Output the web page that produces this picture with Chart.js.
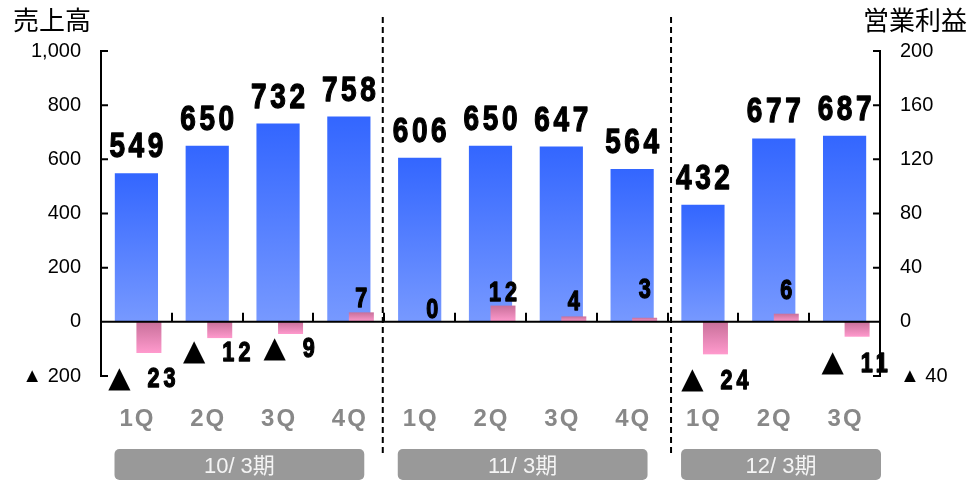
<!DOCTYPE html>
<html lang="ja">
<head>
<meta charset="utf-8">
<title>売上高・営業利益</title>
<script src="https://cdn.jsdelivr.net/npm/chart.js@4.4.1/dist/chart.umd.min.js"></script>
<style>
  html, body { margin: 0; padding: 0; background: #fff; }
  #wrap { width: 971px; height: 481px; position: relative; }
</style>
</head>
<body>
<div id="wrap"><canvas id="chart"></canvas></div>
<script>
const quarters = ['1Q', '2Q', '3Q', '4Q', '1Q', '2Q', '3Q', '4Q', '1Q', '2Q', '3Q'];
const periods = ['10/ 3期', '11/ 3期', '12/ 3期'];
const periodSizes = [4, 4, 3];
const sales = [549, 650, 732, 758, 606, 650, 647, 564, 432, 677, 687];
const profit = [-23, -12, -9, 7, 0, 12, 4, 3, -24, 6, -11];
const salesTicks = [-200, 0, 200, 400, 600, 800, 1000];
const profitTicks = [-40, 0, 40, 80, 120, 160, 200];

// labels in the original were nudged by hand, keep that
const profitLabelDx = [-7, -3, -1.5, 0, 0, 0, 0, 0, -0.5, 0, -2.5];
const profitLabelDy = [26, 14.5, 15, 5, 4, 5, 6, 20, 26.5, 15, 26.5];

const LATIN = '"Liberation Sans", Arial, sans-serif';
const CJK = '"Liberation Sans", "Noto Sans CJK JP", sans-serif';
const SQUEEZE = 0.8;

const tickLabel = v => v < 0 ? '▲ ' + (-v) : v.toLocaleString('en-US');

function vGradient(ctx, top, bottom, c1, c2) {
  const g = ctx.createLinearGradient(0, top, 0, bottom);
  g.addColorStop(0, c1);
  g.addColorStop(1, c2);
  return g;
}

function spaced(ctx, px) {
  if ('letterSpacing' in ctx) ctx.letterSpacing = px + 'px';
}

// tall condensed heavy digits like the original labels
function condensedWidth(ctx, text, font, gap) {
  ctx.save();
  ctx.font = font;
  spaced(ctx, gap);
  const w = (ctx.measureText(text).width - gap) * SQUEEZE;
  ctx.restore();
  return w;
}

function drawCondensed(ctx, text, font, gap, x, y, align) {
  const w = condensedWidth(ctx, text, font, gap);
  const left = align === 'center' ? x - w / 2 : x;
  ctx.save();
  ctx.translate(left, y);
  ctx.scale(SQUEEZE, 1);
  ctx.font = font;
  spaced(ctx, gap);
  ctx.textAlign = 'left';
  ctx.lineWidth = 1.3;
  ctx.lineJoin = 'round';
  ctx.strokeStyle = ctx.fillStyle;
  ctx.fillText(text, 0, 0);
  ctx.strokeText(text, 0, 0);
  ctx.restore();
}

const salesColor = (c) => {
  const chart = c.chart;
  if (!chart.chartArea || c.type !== 'data') return '#3366ff';
  const y = chart.scales.y;
  return vGradient(chart.ctx, y.getPixelForValue(sales[c.dataIndex]), y.getPixelForValue(0), '#3366ff', '#7799ff');
};

const profitColor = (c) => {
  const chart = c.chart;
  if (!chart.chartArea || c.type !== 'data') return '#ff99cc';
  const y = chart.scales.y1;
  const a = y.getPixelForValue(profit[c.dataIndex]);
  const b = y.getPixelForValue(0);
  return vGradient(chart.ctx, Math.min(a, b), Math.max(a, b) + 0.01, '#c8709a', '#ff9acd');
};

const decor = {
  id: 'decor',
  afterDatasetsDraw(chart) {
    const { ctx, chartArea: area } = chart;
    const x = chart.scales.x, y = chart.scales.y, y1 = chart.scales.y1;
    const half = (x.getPixelForValue(1) - x.getPixelForValue(0)) / 2;
    const leftEdge = i => x.getPixelForValue(i) - half;
    const zero = y.getPixelForValue(0);

    ctx.save();
    ctx.strokeStyle = '#000';
    ctx.lineWidth = 2;

    // zero line with upward ticks between categories
    ctx.beginPath();
    ctx.moveTo(area.left, zero);
    ctx.lineTo(area.right, zero);
    for (let i = 1; i < quarters.length; i++) {
      const bx = Math.round(leftEdge(i));
      ctx.moveTo(bx, zero);
      ctx.lineTo(bx, zero - 9);
    }
    // inward ticks on both value axes
    salesTicks.forEach(v => {
      const py = y.getPixelForValue(v);
      ctx.moveTo(area.left, py);
      ctx.lineTo(area.left + 7, py);
    });
    profitTicks.forEach(v => {
      const py = y1.getPixelForValue(v);
      ctx.moveTo(area.right, py);
      ctx.lineTo(area.right - 7, py);
    });
    ctx.stroke();

    // dashed period separators
    ctx.setLineDash([6, 4]);
    const sepNudge = [-1.5, 3.5];
    let idx = 0;
    for (let k = 0; k < periods.length - 1; k++) {
      idx += periodSizes[k];
      const sx = leftEdge(idx) + sepNudge[k];
      ctx.beginPath();
      ctx.moveTo(sx, 17);
      ctx.lineTo(sx, 453);
      ctx.stroke();
    }
    ctx.setLineDash([]);

    // axis titles
    ctx.fillStyle = '#000';
    ctx.font = '26px "Noto Sans CJK JP", sans-serif';
    ctx.textBaseline = 'middle';
    ctx.textAlign = 'left';
    ctx.fillText('売上高', 13, 20);
    ctx.textAlign = 'right';
    ctx.fillText('営業利益', 967, 20);

    // quarter labels
    ctx.fillStyle = '#888';
    ctx.font = 'bold 24px ' + LATIN;
    ctx.textAlign = 'center';
    spaced(ctx, 2);
    quarters.forEach((q, i) => ctx.fillText(q, x.getPixelForValue(i) + 1, 419));
    spaced(ctx, 0);

    // period boxes
    let start = 0;
    periods.forEach((p, k) => {
      const end = start + periodSizes[k];
      const left = leftEdge(start) + 13.5;
      const right = k === periods.length - 1 ? area.right + 1 : leftEdge(end) - 20;
      ctx.fillStyle = '#999';
      ctx.beginPath();
      ctx.roundRect(left, 449, right - left, 31, 5);
      ctx.fill();
      ctx.fillStyle = '#f4f4f4';
      ctx.font = '22px ' + CJK;
      ctx.fillText(p, (left + right) / 2, 467);
      start = end;
    });

    // sales values
    ctx.fillStyle = '#000';
    ctx.textBaseline = 'alphabetic';
    const bigFont = 'bold 35px ' + LATIN;
    chart.getDatasetMeta(0).data.forEach((el, i) => {
      drawCondensed(ctx, String(sales[i]), bigFont, 4.5, el.x, el.y - 16, 'center');
    });

    // operating profit values
    const numFont = 'bold 27px ' + LATIN;
    const triFont = 'bold 29px "DejaVu Sans", sans-serif';
    chart.getDatasetMeta(2).data.forEach((el, i) => {
      const v = profit[i];
      const cx = el.x + profitLabelDx[i];
      if (v >= 0) {
        ctx.textBaseline = 'alphabetic';
        drawCondensed(ctx, String(v), numFont, 5, cx, Math.min(el.y, el.base) - profitLabelDy[i], 'center');
      } else {
        const num = String(-v);
        const cy = el.y + profitLabelDy[i];
        ctx.font = triFont;
        const tw = ctx.measureText('▲').width;
        const nw = condensedWidth(ctx, num, numFont, 5);
        const gap = 17;
        const x0 = cx - (tw + gap + nw) / 2;
        ctx.textAlign = 'left';
        ctx.textBaseline = 'middle';
        ctx.font = triFont;
        ctx.fillText('▲', x0, cy);
        drawCondensed(ctx, num, numFont, 5, x0 + tw + gap, cy + 1, 'left');
      }
    });
    ctx.restore();
  }
};

new Chart(document.getElementById('chart'), {
  type: 'bar',
  data: {
    labels: quarters,
    datasets: [
      {
        label: '売上高',
        data: sales,
        yAxisID: 'y',
        grouped: false,
        categoryPercentage: 1,
        barPercentage: 0.61,
        backgroundColor: salesColor,
        order: 2
      },
      {
        // empty slot so the profit bar sits right of the category centre
        label: '',
        data: quarters.map(() => null),
        yAxisID: 'y1',
        categoryPercentage: 0.706,
        barPercentage: 1,
        order: 1
      },
      {
        label: '営業利益',
        data: profit,
        yAxisID: 'y1',
        categoryPercentage: 0.706,
        barPercentage: 1,
        backgroundColor: profitColor,
        order: 1
      }
    ]
  },
  options: {
    responsive: true,
    maintainAspectRatio: false,
    animation: false,
    layout: { padding: { top: 51, bottom: 105, left: 0, right: 0 } },
    plugins: { legend: { display: false }, tooltip: { enabled: false } },
    scales: {
      x: { display: false, stacked: false },
      y: {
        position: 'left',
        min: -200,
        max: 1000,
        afterBuildTicks: s => { s.ticks = salesTicks.map(v => ({ value: v })); },
        afterFit: s => { s.width = 101; },
        grid: { display: false, drawTicks: false },
        border: { display: true, color: '#000', width: 2 },
        ticks: { padding: 20, color: '#000', font: { size: 20, family: LATIN }, callback: tickLabel }
      },
      y1: {
        position: 'right',
        min: -40,
        max: 200,
        afterBuildTicks: s => { s.ticks = profitTicks.map(v => ({ value: v })); },
        afterFit: s => { s.width = 91; },
        grid: { display: false, drawTicks: false },
        border: { display: true, color: '#000', width: 2 },
        ticks: { padding: 20, color: '#000', font: { size: 20, family: LATIN }, callback: tickLabel }
      }
    }
  },
  plugins: [decor]
});
</script>
</body>
</html>
